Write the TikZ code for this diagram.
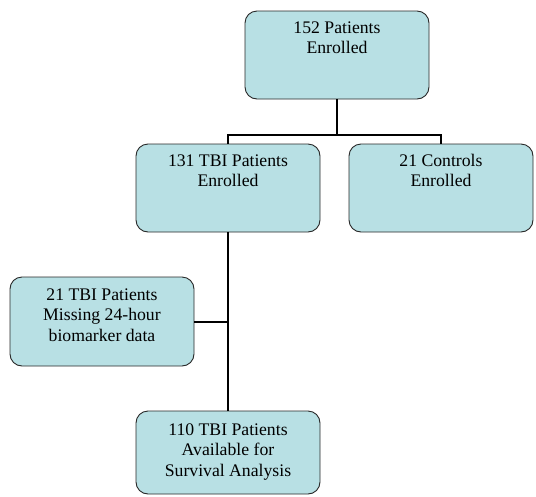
\documentclass[tikz,border=0pt]{standalone}
\usepackage{fontspec}
\setmainfont{Liberation Serif}
\usetikzlibrary{calc}
\definecolor{boxfill}{RGB}{184,224,228}
\definecolor{boxline}{RGB}{40,40,40}
\tikzset{
  flowbox/.style={draw=boxline, line width=0.9pt, fill=boxfill, rounded corners=12pt,
    minimum width=184pt, inner sep=0pt, shape=rectangle},
  boxtext/.style={anchor=base, inner sep=0pt,
    font=\fontsize{17.7pt}{20.5pt}\selectfont},
  conn/.style={draw=black, line width=2pt}
}
\newcommand{\boxlines}[1]{\parbox[t]{180pt}{\centering #1}}
\begin{document}
\begin{tikzpicture}[x=1pt,y=-1pt]
\useasboundingbox (0,0) rectangle (536,496);
% boxes
\node[flowbox, minimum height=88pt] (top) at (337,55) {};
\node[flowbox, minimum height=88pt] (ml) at (228,188) {};
\node[flowbox, minimum height=88pt] (mr) at (441,188) {};
\node[flowbox, minimum height=89pt] (lft) at (102,321.5) {};
\node[flowbox, minimum height=83pt] (bot) at (228,452.5) {};
% texts
\node[boxtext] (ttop) at (337,33) {\boxlines{152 Patients\\Enrolled}};
\node[boxtext] (tml) at (228,166) {\boxlines{131 TBI Patients\\Enrolled}};
\node[boxtext] (tmr) at (441,166) {\boxlines{21 Controls\\Enrolled}};
\node[boxtext] (tlft) at (102,300) {\boxlines{21 TBI Patients\\Missing 24-hour\\biomarker data}};
\node[boxtext] (tbot) at (228,435) {\boxlines{110 TBI Patients\\Available for\\Survival Analysis}};
% connectors
\coordinate (j) at ($(top.south)+(0,36)$);
\draw[conn] (top.south) -- (j);
\draw[conn] (ml.north) |- (j) -| (mr.north);
\draw[conn] (ml.south) -- (bot.north);
\draw[conn] (lft.east) -- (lft.east -| ml.south);
\end{tikzpicture}
\end{document}
